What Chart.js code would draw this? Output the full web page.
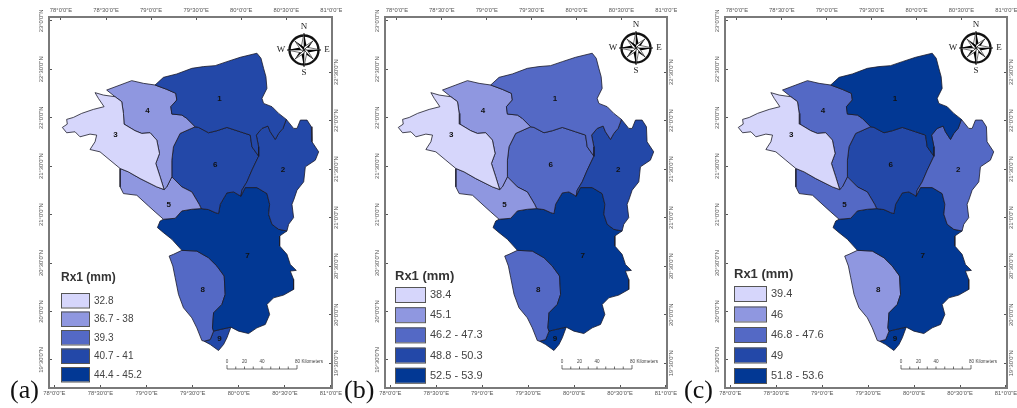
<!DOCTYPE html>
<html>
<head>
<meta charset="utf-8">
<title>Rx1 maps</title>
<script src="https://cdn.jsdelivr.net/npm/chart.js@4"></script>
<style>
html, body { margin: 0; padding: 0; background: #fff; overflow: hidden; }
#page { position: relative; width: 1017px; height: 408px; }
canvas { position: absolute; filter: blur(0.35px); }
.tag { position: absolute; font: 26px "Liberation Serif", serif; color: #111; line-height: 26px; }
</style>
</head>
<body>
<div id="page">
  <canvas id="mapA" width="307" height="406" style="left:35px;top:1px"></canvas>
  <canvas id="mapB" width="306" height="406" style="left:371px;top:1px"></canvas>
  <canvas id="mapC" width="306" height="406" style="left:711px;top:1px"></canvas>
  <span class="tag" style="left:10px;top:377px">(a)</span>
  <span class="tag" style="left:344px;top:377px">(b)</span>
  <span class="tag" style="left:684px;top:377px">(c)</span>
</div>
<script>
// sub-basin boundaries, [lon, lat], shared arcs so neighbours line up
const arcNorth = [[79.044,22.338],[79.137,22.417],[79.285,22.452],[79.452,22.510],[79.581,22.528],[79.711,22.538],[79.841,22.579],[79.989,22.624],[80.174,22.666],[80.219,22.614],[80.248,22.510],[80.274,22.424],[80.285,22.303],[80.230,22.200],[80.248,22.148],[80.341,22.114],[80.415,22.045],[80.500,21.983]];
const arc1to2 = [[80.463,21.890],[80.415,21.838],[80.378,21.776],[80.322,21.855],[80.296,21.914],[80.230,21.890],[80.167,21.821],[80.193,21.700],[80.193,21.603]];
const arc1to6 = [[80.119,21.700],[80.100,21.821],[79.989,21.855],[79.841,21.900],[79.730,21.866],[79.637,21.845],[79.526,21.900],[79.489,21.907]];
const arc1to4 = [[79.396,21.993],[79.341,22.028],[79.230,22.038],[79.219,22.114],[79.285,22.183],[79.274,22.252],[79.174,22.293]];
const arc4north = [[79.044,22.338],[78.915,22.355],[78.785,22.383],[78.656,22.338],[78.507,22.286]];
const arc3to4 = [[78.600,22.217],[78.674,22.166],[78.693,22.045],[78.700,21.934],[78.822,21.866],[78.896,21.838],[78.989,21.845],[79.063,21.769],[79.093,21.631],[79.052,21.528],[79.100,21.390],[79.144,21.259]];
const arc3west = [[78.470,22.234],[78.378,22.259],[78.415,22.200],[78.478,22.114],[78.359,22.086],[78.230,22.045],[78.137,22.003],[78.063,21.983],[78.070,21.934],[78.015,21.900],[78.063,21.845],[78.156,21.855],[78.211,21.803],[78.322,21.831],[78.396,21.821],[78.378,21.752],[78.322,21.672],[78.433,21.648],[78.544,21.562],[78.656,21.476]];
const arc3to5 = [[78.748,21.441],[78.878,21.372],[79.063,21.286],[79.144,21.259]];
const arc4to6 = [[79.489,21.907],[79.322,21.838],[79.248,21.700],[79.230,21.562],[79.230,21.390]];
const arc4to5 = [[79.230,21.390],[79.174,21.286],[79.144,21.259]];
const arc5to6 = [[79.230,21.390],[79.341,21.286],[79.452,21.234],[79.533,21.107],[79.556,21.062]];
const arc6to7 = [[79.556,21.062],[79.637,21.052],[79.711,21.021],[79.748,21.010],[79.767,21.107],[79.841,21.224],[79.915,21.234],[79.996,21.190]];
const arc6to2 = [[80.193,21.603],[80.119,21.459],[80.063,21.338],[80.007,21.252],[79.996,21.190]];
const arc2to7 = [[79.996,21.190],[80.044,21.279],[80.174,21.279],[80.285,21.217],[80.315,21.107],[80.304,21.003],[80.341,20.900],[80.415,20.848],[80.507,20.831]];
const arc2east = [[80.500,21.983],[80.581,21.890],[80.619,21.890],[80.656,21.976],[80.730,21.976],[80.778,21.907],[80.785,21.752],[80.859,21.648],[80.822,21.562],[80.711,21.493],[80.693,21.338],[80.619,21.252],[80.581,21.148],[80.563,21.107],[80.581,20.969],[80.526,20.900],[80.507,20.831]];
const arc7east = [[80.426,20.779],[80.426,20.676],[80.507,20.590],[80.544,20.486],[80.611,20.424],[80.544,20.417],[80.581,20.331],[80.581,20.228],[80.470,20.169],[80.359,20.141],[80.285,20.072],[80.315,19.969],[80.267,19.866],[80.174,19.831],[80.081,19.772],[79.970,19.797],[79.885,19.838]];
const arc7to9 = [[79.767,19.814],[79.693,19.797]];
const arc7to8 = [[79.681,19.831],[79.693,19.986],[79.785,20.072],[79.822,20.176],[79.811,20.366],[79.730,20.469],[79.637,20.555],[79.507,20.624],[79.341,20.631]];
const arc7west = [[79.230,20.745],[79.137,20.814],[79.070,20.866],[79.100,20.934],[79.137,20.952]];
const arc5to7 = [[79.267,20.962],[79.341,21.038],[79.452,21.055],[79.556,21.062]];
const arc5west = [[78.656,21.476],[78.656,21.286],[78.693,21.217],[78.841,21.200],[78.970,21.090],[79.044,21.028],[79.137,20.952]];
const arc8west = [[79.341,20.631],[79.248,20.590],[79.200,20.572],[79.241,20.469],[79.267,20.348],[79.304,20.176],[79.359,20.038],[79.452,19.934],[79.507,19.831],[79.563,19.700],[79.589,19.693]];
const arc8to9 = [[79.656,19.710],[79.693,19.797]];
const arc9outer = [[79.589,19.693],[79.656,19.659],[79.748,19.597],[79.804,19.659],[79.841,19.728],[79.885,19.838]];

const rev = a => a.slice().reverse();
const basinShapes = [
  [...arcNorth, ...arc1to2, ...arc1to6, ...arc1to4],
  [...arc2east, ...rev(arc2to7), ...rev(arc6to2), ...rev(arc1to2)],
  [...arc3west, ...arc3to5, ...rev(arc3to4)],
  [...arc4north, ...arc3to4, ...rev(arc4to5), ...rev(arc4to6), ...arc1to4],
  [...arc5west, ...arc5to7, ...rev(arc5to6), ...arc4to5, ...rev(arc3to5)],
  [...rev(arc1to6), ...arc6to2, ...rev(arc6to7), ...rev(arc5to6), ...rev(arc4to6)],
  [...arc2to7, ...arc7east, ...arc7to9, ...arc7to8, ...arc7west, ...arc5to7, ...arc6to7],
  [...arc8west, ...arc8to9, ...arc7to8],
  [[79.589,19.693], ...arc8to9, ...rev(arc7to9), ...rev(arc9outer)]
];
const basinNames = ['1', '2', '3', '4', '5', '6', '7', '8', '9'];
const basinLon = [79.759, 80.463, 78.604, 78.959, 79.196, 79.711, 80.070, 79.574, 79.759];
const basinLat = [22.200, 21.466, 21.821, 22.069, 21.097, 21.517, 20.572, 20.228, 19.721];

// legend class of each basin (1 = lightest) per panel
const classesA = [4, 4, 1, 2, 2, 4, 5, 3, 4];
const classesB = [3, 4, 1, 2, 2, 3, 5, 3, 5];
const classesC = [5, 3, 1, 3, 3, 4, 5, 2, 5];
const legendA = ['32.8', '36.7 - 38', '39.3', '40.7 - 41', '44.4 - 45.2'];
const legendB = ['38.4', '45.1', '46.2 - 47.3', '48.8 - 50.3', '52.5 - 53.9'];
const legendC = ['39.4', '46', '46.8 - 47.6', '49', '51.8 - 53.6'];
const classColors = ['#d6d6fb', '#8f97e0', '#5469c5', '#2348a8', '#023894'];

const lonTicks = [78, 78.5, 79, 79.5, 80, 80.5, 81];
const lonLabels = ['78°0\'0"E', '78°30\'0"E', '79°0\'0"E', '79°30\'0"E', '80°0\'0"E', '80°30\'0"E', '81°0\'0"E'];
const latTicks = [23, 22.5, 22, 21.5, 21, 20.5, 20, 19.5];
const latLabels = ['23°0\'0"N', '22°30\'0"N', '22°0\'0"N', '21°30\'0"N', '21°0\'0"N', '20°30\'0"N', '20°0\'0"N', '19°30\'0"N'];
const kmMarks = ['0', '20', '40', '80 Kilometers'];
const kmValues = [0, 20, 40, 80];

const SANS = '"Liberation Sans", Arial, sans-serif';
const SERIF = '"Liberation Serif", serif';

function drawCompass(ctx, cx, cy) {
  ctx.save();
  ctx.translate(cx, cy);
  ctx.strokeStyle = '#111';
  ctx.lineWidth = 2.4;
  ctx.beginPath();
  ctx.arc(0, 0, 14.5, 0, Math.PI * 2);
  ctx.stroke();
  for (let i = 0; i < 8; i++) {
    const long = i % 2 === 0;
    const r = long ? 17 : 13;
    const w = long ? 2.8 : 2.2;
    ctx.save();
    ctx.rotate(i * Math.PI / 4);
    ctx.fillStyle = '#000';
    ctx.beginPath();
    ctx.moveTo(0, -r); ctx.lineTo(w, -w); ctx.lineTo(0, 0);
    ctx.closePath();
    ctx.fill();
    ctx.fillStyle = '#fff';
    ctx.beginPath();
    ctx.moveTo(0, -r); ctx.lineTo(-w, -w); ctx.lineTo(0, 0);
    ctx.closePath();
    ctx.fill();
    ctx.lineWidth = 0.6;
    ctx.stroke();
    ctx.restore();
  }
  ctx.fillStyle = '#222';
  ctx.font = '9px ' + SERIF;
  ctx.textAlign = 'center';
  ctx.textBaseline = 'middle';
  ctx.fillText('N', 0, -23);
  ctx.fillText('S', 0, 23);
  ctx.fillText('W', -23, 0);
  ctx.fillText('E', 23, 0);
  ctx.restore();
}

function drawScaleBar(ctx, x, y, w) {
  ctx.save();
  ctx.strokeStyle = '#333';
  ctx.lineWidth = 0.7;
  ctx.beginPath();
  ctx.moveTo(x, y); ctx.lineTo(x + w, y);
  for (let i = 0; i <= 8; i++) {
    const tx = x + w * i / 8;
    ctx.moveTo(tx, y);
    ctx.lineTo(tx, y - (i === 0 || i === 8 ? 4 : 2.5));
  }
  ctx.stroke();
  ctx.fillStyle = '#444';
  ctx.font = '4.6px ' + SANS;
  ctx.textBaseline = 'middle';
  kmMarks.forEach((txt, i) => {
    const tx = x + w * kmValues[i] / 80;
    ctx.textAlign = i === 3 ? 'left' : 'center';
    ctx.fillText(txt, i === 3 ? tx - 2 : tx, y - 7);
  });
  ctx.restore();
}

// offsets are from the frame's top-left corner
function mapDecor(panel) {
  return {
    id: 'mapDecor',
    afterDatasetsDraw(chart) {
      const { ctx, chartArea, scales } = chart;
      const ox = chartArea.left, oy = chartArea.top;

      ctx.save();
      ctx.fillStyle = '#111';
      ctx.font = 'bold 8px ' + SANS;
      ctx.textAlign = 'center';
      ctx.textBaseline = 'middle';
      basinNames.forEach((n, i) => {
        ctx.fillText(n, scales.x.getPixelForValue(basinLon[i]), scales.y.getPixelForValue(basinLat[i]));
      });

      const lg = panel.legend;
      ctx.textAlign = 'left';
      ctx.fillStyle = '#333';
      ctx.font = 'bold ' + lg.titleSize + 'px ' + SANS;
      ctx.fillText('Rx1 (mm)', ox + lg.x, oy + lg.titleY);
      ctx.font = lg.textSize + 'px ' + SANS;
      panel.labels.forEach((txt, i) => {
        const y = oy + lg.y + i * lg.step;
        ctx.fillStyle = classColors[i];
        ctx.fillRect(ox + lg.x, y, lg.w, lg.h);
        ctx.strokeStyle = '#555';
        ctx.lineWidth = 1;
        ctx.strokeRect(ox + lg.x + 0.5, y + 0.5, lg.w, lg.h);
        ctx.fillStyle = '#444';
        ctx.fillText(txt, ox + lg.x + lg.w + 5, y + lg.h / 2 + 0.5);
      });
      ctx.restore();

      drawCompass(ctx, ox + panel.compass[0], oy + panel.compass[1]);
      drawScaleBar(ctx, ox + panel.bar[0], oy + panel.bar[1], 70);
    }
  };
}

function axis(position, min, max, values, labels, extra) {
  const horizontal = position === 'top' || position === 'bottom';
  return {
    type: 'linear',
    position,
    min,
    max,
    afterBuildTicks: s => { s.ticks = values.map(v => ({ value: v })); },
    afterFit: s => {
      if (horizontal) s.height = extra.size; else s.width = extra.size;
      // labels hanging over the ends must not shrink the frame
      s.paddingLeft = s.paddingRight = s.paddingTop = s.paddingBottom = 0;
    },
    border: { display: true, color: '#7a7a7a', width: 2 },
    grid: { drawOnChartArea: false, drawTicks: true, tickLength: -3, color: '#555', lineWidth: 1 },
    ticks: Object.assign({
      autoSkip: false,
      color: '#555',
      font: { family: SANS, size: 5.8 },
      callback: (v, i) => labels[i]
    }, extra.ticks)
  };
}

function drawMap(id, panel) {
  new Chart(document.getElementById(id), {
    type: 'scatter',
    data: {
      datasets: basinShapes.map((shape, i) => ({
        label: basinNames[i],
        data: [...shape, shape[0]].map(p => ({ x: p[0], y: p[1] })),
        showLine: true,
        fill: 'shape',
        tension: 0,
        pointRadius: 0,
        borderColor: '#1a1a2a',
        borderWidth: 0.8,
        backgroundColor: classColors[panel.classes[i] - 1],
        xAxisID: 'x',
        yAxisID: 'y'
      }))
    },
    options: {
      responsive: false,
      animation: false,
      events: [],
      layout: { autoPadding: false, padding: 0 },
      plugins: { legend: { display: false }, tooltip: { enabled: false } },
      scales: {
        x: axis('top', 77.867, 81.007, lonTicks, lonLabels, { size: 16, ticks: { padding: 6, maxRotation: 0 } }),
        x2: axis('bottom', 77.942, 81.011, lonTicks, lonLabels, { size: 19, ticks: { padding: 5, maxRotation: 0 } }),
        y: axis('left', 19.21, 23.04, latTicks, latLabels, { size: 14, ticks: { minRotation: 90, maxRotation: 90, crossAlign: 'center', padding: -2 } }),
        y2: axis('right', 19.245, 23.068, latTicks.slice(1), latLabels.slice(1), { size: 10, ticks: { minRotation: 90, maxRotation: 90, crossAlign: 'center', padding: -5 } })
      }
    },
    plugins: [mapDecor(panel)]
  });
}

drawMap('mapA', {
  classes: classesA, labels: legendA,
  legend: { x: 12, y: 276, step: 18.5, w: 28, h: 14.5, titleY: 261, titleSize: 12, textSize: 10 },
  compass: [255, 33], bar: [178, 352]
});
drawMap('mapB', {
  classes: classesB, labels: legendB,
  legend: { x: 10, y: 270, step: 20.2, w: 30, h: 15, titleY: 259, titleSize: 13, textSize: 11 },
  compass: [251, 31], bar: [177, 352]
});
drawMap('mapC', {
  classes: classesC, labels: legendC,
  legend: { x: 9, y: 269, step: 20.5, w: 32, h: 15, titleY: 257, titleSize: 13, textSize: 11 },
  compass: [251, 31], bar: [176, 352]
});
</script>
</body>
</html>
